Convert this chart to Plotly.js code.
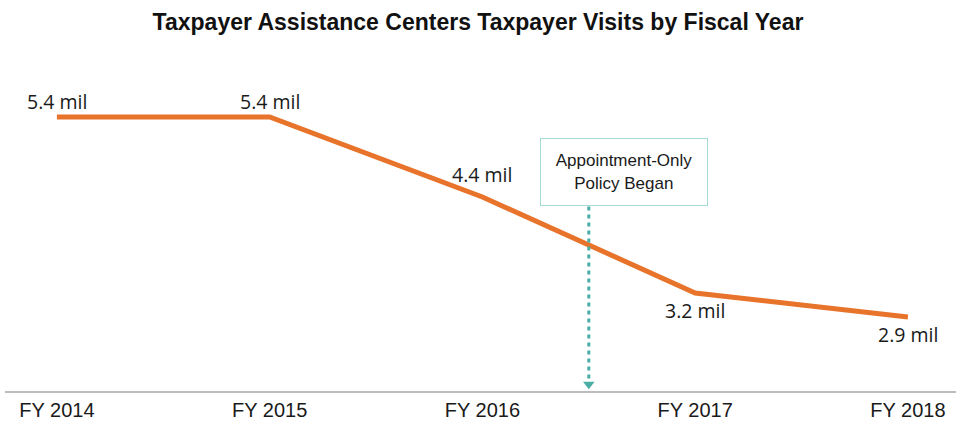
<!DOCTYPE html>
<html>
<head>
<meta charset="utf-8">
<script src="https://cdn.plot.ly/plotly-3.0.1.min.js"></script>
<style>html,body{margin:0;padding:0;background:#fff;}#chart{width:956px;height:422px;}</style>
</head>
<body>
<div id="chart"></div>
<script>
const categories = ["FY 2014", "FY 2015", "FY 2016", "FY 2017", "FY 2018"];
const visits = [5.4, 5.4, 4.4, 3.2, 2.9];
const labels = ["5.4 mil", "5.4 mil", "4.4 mil", "3.2 mil", "2.9 mil"];
const labelAbove = [true, true, true, false, false];
const policyX = 2.5;
const policyText = "Appointment-Only<br>Policy Began";

const xIdx = categories.map((_, i) => i);

const traces = [
  {
    x: xIdx, y: visits, mode: "lines",
    line: {color: "#E8732A", width: 5},
    cliponaxis: false, hoverinfo: "skip", showlegend: false
  },
  {
    x: [policyX], y: [2.06], mode: "markers",
    marker: {symbol: "triangle-down", size: 10, color: "#4AAEA5"},
    cliponaxis: false, hoverinfo: "skip", showlegend: false
  }
];

const labelAnnotations = labels.map((t, i) => ({
  x: xIdx[i], y: visits[i], xref: "x", yref: "y", text: t, showarrow: false,
  yshift: labelAbove[i] ? (i === 2 ? 23 : 16) : -17,
  font: {family: "Open Sans, sans-serif", size: 19.5, color: "#1a1a1a"}
}));

const layout = {
  width: 956, height: 422,
  margin: {l: 5, r: 0, t: 60, b: 30},
  paper_bgcolor: "#fff", plot_bgcolor: "#fff",
  title: {
    text: "<b>Taxpayer Assistance Centers Taxpayer Visits by Fiscal Year</b>",
    font: {family: "Liberation Sans Narrow, Arial Narrow, Liberation Sans, sans-serif", size: 23, color: "#111"},
    x: 0.5, xanchor: "center", y: 1 - 22/422, yanchor: "middle", yref: "container"
  },
  xaxis: {
    range: [-0.244, 4.226], tickvals: xIdx, ticktext: categories,
    showgrid: false, zeroline: false, showline: false, ticks: "",
    ticklabelstandoff: 4,
    tickfont: {family: "Liberation Sans Narrow, Arial Narrow, Liberation Sans, sans-serif", size: 20, color: "#1a1a1a"},
    fixedrange: true
  },
  yaxis: {
    range: [1.9625, 6.1125], visible: false, showgrid: false, zeroline: false, fixedrange: true
  },
  shapes: [
    {type: "line", xref: "paper", yref: "paper", x0: 0, x1: 1, y0: 0, y1: 0,
     line: {color: "#a6a6a6", width: 1.5}},
    {type: "line", xref: "x", yref: "y", x0: policyX, x1: policyX, y0: 4.28, y1: 2.12,
     line: {color: "#4AAEA5", width: 3, dash: "4px,4px"}}
  ],
  annotations: labelAnnotations.concat([
    {x: 2.665, y: 4.71, xref: "x", yref: "y", text: policyText, showarrow: false,
     font: {family: "Liberation Sans, Arial, sans-serif", size: 17, color: "#1a1a1a"},
     bordercolor: "#A9DBD6", borderwidth: 1, borderpad: 4, bgcolor: "#fff",
     width: 158, height: 58, align: "center"}
  ])
};

Plotly.newPlot("chart", traces, layout, {displayModeBar: false, staticPlot: true});
</script>
</body>
</html>
